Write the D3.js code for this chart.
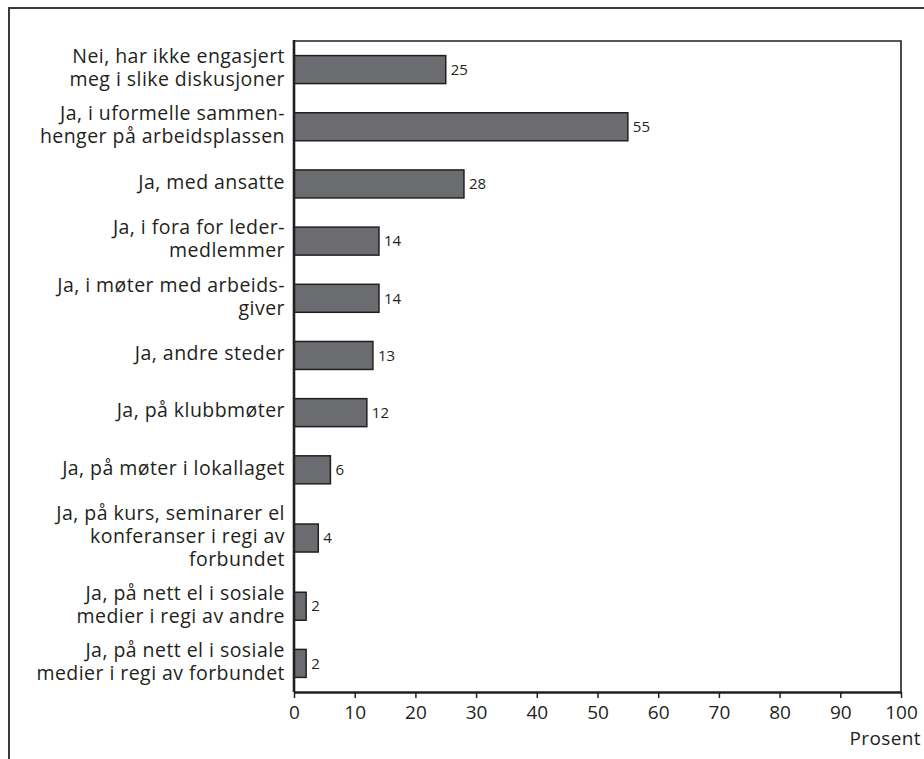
<!DOCTYPE html>
<html>
<head>
<meta charset="utf-8">
<script src="https://cdn.jsdelivr.net/npm/d3@7"></script>
<style>
  html, body { margin: 0; padding: 0; background: #fff; }
  svg { display: block; font-family: "Open Sans", "Noto Sans", sans-serif; }
</style>
</head>
<body>
<svg id="chart" width="924" height="759"></svg>
<script>
// Answer categories (line breaks as printed)
const categories = [
  "Nei, har ikke engasjert\nmeg i slike diskusjoner",
  "Ja, i uformelle sammen-\nhenger på arbeidsplassen",
  "Ja, med ansatte",
  "Ja, i fora for leder-\nmedlemmer",
  "Ja, i møter med arbeids-\ngiver",
  "Ja, andre steder",
  "Ja, på klubbmøter",
  "Ja, på møter i lokallaget",
  "Ja, på kurs, seminarer el\nkonferanser i regi av\nforbundet",
  "Ja, på nett el i sosiale\nmedier i regi av andre",
  "Ja, på nett el i sosiale\nmedier i regi av forbundet"
];
// Share of respondents, percent
const values = [25, 55, 28, 14, 14, 13, 12, 6, 4, 2, 2];
// X axis ticks
const xTicks = [0, 10, 20, 30, 40, 50, 60, 70, 80, 90, 100];
const xTitle = "Prosent";

const svg = d3.select("#chart");
const ink = "#231f20";

const plot = { left: 294, right: 901, top: 41, bottom: 692 };

// Outer frame (open to the right and bottom)
svg.append("path")
  .attr("d", "M9,759V8H924")
  .attr("fill", "none")
  .attr("stroke", "#3a3a3a")
  .attr("stroke-width", 2);

const x = d3.scaleLinear().domain([0, 100]).range([plot.left, plot.right]);

// Each row is tall enough for its wrapped label; rows share the plot height
const lineH = 23;
const rows = categories.map(c => c.split("\n"));
const rowH = rows.map(lines => Math.max(57, lines.length * lineH + 10));
const cum = d3.cumsum(rowH);
const total = cum[cum.length - 1];
const yPos = d3.scaleLinear().domain([0, total]).range([plot.top, plot.bottom]);
const centers = rowH.map((h, i) => yPos(cum[i] - h / 2));
const barH = 28;

// Plot frame: top and right
svg.append("path")
  .attr("d", `M${plot.left},${plot.top}H${plot.right}V${plot.bottom}`)
  .attr("fill", "none")
  .attr("stroke", ink)
  .attr("stroke-width", 1.6);

// Bars
svg.append("g").selectAll("rect")
  .data(values)
  .join("rect")
  .attr("x", x(0))
  .attr("y", (d, i) => centers[i] - barH / 2)
  .attr("width", d => x(d) - x(0))
  .attr("height", barH)
  .attr("fill", "#6b6c70")
  .attr("stroke", ink)
  .attr("stroke-width", 1.5);

// Value labels
svg.append("g").selectAll("text")
  .data(values)
  .join("text")
  .attr("x", d => x(d) + 5)
  .attr("y", (d, i) => centers[i])
  .attr("dy", "0.35em")
  .attr("font-size", 15)
  .attr("fill", ink)
  .text(d => d);

// Category labels, right aligned, vertically centred on the bars
const labels = svg.append("g")
  .attr("font-size", 19.5)
  .attr("letter-spacing", 0.45)
  .attr("fill", ink)
  .attr("text-anchor", "end");
rows.forEach((lines, i) => {
  const top = centers[i] - 2 - (lines.length - 1) * lineH / 2;
  const t = labels.append("text");
  lines.forEach((ln, j) => {
    t.append("tspan")
      .attr("x", 285)
      .attr("y", top + j * lineH)
      .attr("dy", "0.35em")
      .text(ln);
  });
});

// Left axis line
svg.append("line")
  .attr("x1", plot.left).attr("x2", plot.left)
  .attr("y1", plot.top - 1).attr("y2", plot.bottom)
  .attr("stroke", ink)
  .attr("stroke-width", 2.6);

// Bottom axis
const xAxis = svg.append("g")
  .attr("transform", `translate(0,${plot.bottom})`)
  .call(d3.axisBottom(x).tickValues(xTicks).tickSize(6).tickSizeOuter(0).tickPadding(8));
xAxis.select(".domain").attr("stroke", ink).attr("stroke-width", 2.6);
xAxis.selectAll(".tick line").attr("stroke", ink).attr("stroke-width", 1.5);
xAxis.selectAll(".tick text")
  .attr("font-family", "\"Open Sans\", \"Noto Sans\", sans-serif")
  .attr("font-size", 19)
  .attr("fill", ink);

svg.append("text")
  .attr("x", 921)
  .attr("y", plot.bottom + 53)
  .attr("text-anchor", "end")
  .attr("font-size", 19)
  .attr("letter-spacing", 0.4)
  .attr("fill", ink)
  .text(xTitle);
</script>
</body>
</html>
